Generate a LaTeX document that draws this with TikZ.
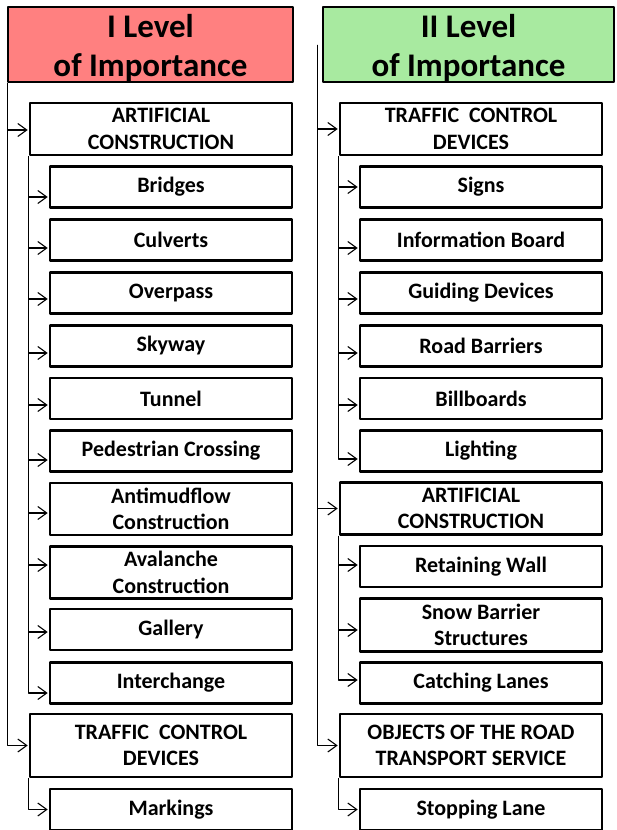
\documentclass[tikz,border=0pt]{standalone}
\usepackage{fontspec}
\setmainfont{Carlito}
\usetikzlibrary{arrows.meta}
\definecolor{levelone}{RGB}{255,128,128}
\definecolor{leveltwo}{RGB}{168,234,160}
\begin{document}
\begin{tikzpicture}[x=1pt,y=-1pt,line join=round,>={Straight Barb[length=9pt,width=13pt]},
	head/.style={draw,line width=2.6pt,minimum width=285pt,minimum height=71pt,align=center,inner sep=0pt,font=\fontsize{33}{39}\selectfont\bfseries},
	group/.style={draw,line width=2.6pt,fill=white,minimum width=262pt,minimum height=52pt,align=center,inner sep=0pt,font=\fontsize{22}{26.5}\selectfont\bfseries},
	item/.style={group,minimum width=242pt,minimum height=41pt},
	link/.style={->,line width=1.1pt,shorten >=1pt}]
			\useasboundingbox (0,0) rectangle (616,830);
			\clip (0,0) rectangle (616,830);
			% headers
			\node[head,fill=levelone] (h1) at (150.5,44.5) {\rule{0pt}{31pt}I Level\\of Importance};
			\node[head,fill=leveltwo,minimum width=291pt] (h2) at (468.5,44.5) {\rule{0pt}{31pt}II Level\\of Importance};
			\coordinate (l0) at ([xshift=1pt]h1.south west);
			\coordinate (r0) at ([xshift=-4pt]h2.west);
			% I level
			\node[group] (ac1) at (161,129) {ARTIFICIAL\\CONSTRUCTION};
			\node[item] (bridges) at (171,187) {Bridges};
			\node[item] (culverts) at (171,240) {Culverts};
			\node[item] (overpass) at (171,293) {Overpass};
			\node[item] (skyway) at (171,346) {Skyway};
			\node[item] (tunnel) at (171,398.5) {Tunnel};
			\node[item] (pedestrian) at (171,451) {Pedestrian Crossing};
			\node[item,minimum height=52pt] (antimudflow) at (171,509) {Antimudflow\\Construction};
			\node[item,minimum height=52pt] (avalanche) at (171,572.5) {Avalanche\\Construction};
			\node[item] (gallery) at (171,629.5) {Gallery};
			\node[item] (interchange) at (171,683) {Interchange};
			\node[group,minimum height=63pt] (tc1) at (161,745.5) {TRAFFIC\ \ CONTROL\\DEVICES};
			\node[item] (markings) at (171,809.5) {Markings};
			% II level
			\node[group] (tc2) at (471,129) {TRAFFIC\ \ CONTROL\\DEVICES};
			\node[item] (signs) at (481,187) {Signs};
			\node[item] (board) at (481,240) {Information Board};
			\node[item] (guiding) at (481,293) {Guiding Devices};
			\node[item] (barriers) at (481,346) {Road Barriers};
			\node[item] (billboards) at (481,398.5) {Billboards};
			\node[item] (lighting) at (481,451) {Lighting};
			\node[group] (ac2) at (471,508.5) {ARTIFICIAL\\CONSTRUCTION};
			\node[item] (wall) at (481,566.5) {Retaining Wall};
			\node[item,minimum height=53pt] (snow) at (481,625) {Snow Barrier\\Structures};
			\node[item] (lanes) at (481,683) {Catching Lanes};
			\node[group,minimum height=63pt] (ots) at (471,745.5) {OBJECTS OF THE ROAD\\TRANSPORT SERVICE};
			\node[item] (stopping) at (481,809.5) {Stopping Lane};
			% links, I level
			\draw[link] (l0) |- ([yshift=-1pt]ac1.west);
			\draw[link] (l0) |- (tc1.west);
			\draw[link] (ac1.south west) |- ([yshift=-10pt]bridges.west);
			\draw[link] (ac1.south west) |- ([yshift=-8pt]culverts.west);
			\draw[link] (ac1.south west) |- ([yshift=-6pt]overpass.west);
			\draw[link] (ac1.south west) |- ([yshift=-7pt]skyway.west);
			\draw[link] (ac1.south west) |- ([yshift=-6.5pt]tunnel.west);
			\draw[link] (ac1.south west) |- ([yshift=-9pt]pedestrian.west);
			\draw[link] (ac1.south west) |- ([yshift=-4pt]antimudflow.west);
			\draw[link] (ac1.south west) |- ([yshift=7.5pt]avalanche.west);
			\draw[link] (ac1.south west) |- ([yshift=-2.5pt]gallery.west);
			\draw[link] (ac1.south west) |- ([yshift=-10pt]interchange.west);
			\draw[link] (tc1.south west) |- (markings.west);
			% links, II level
			\draw[link] (r0) |- (tc2.west);
			\draw[link] (r0) |- (ac2.west);
			\draw[link] (r0) |- (ots.west);
			\draw[link] (tc2.south west) |- (signs.west);
			\draw[link] (tc2.south west) |- ([yshift=-8pt]board.west);
			\draw[link] (tc2.south west) |- ([yshift=-6pt]guiding.west);
			\draw[link] (tc2.south west) |- ([yshift=-7pt]barriers.west);
			\draw[link] (tc2.south west) |- ([yshift=-6.5pt]billboards.west);
			\draw[link] (tc2.south west) |- ([yshift=-8pt]lighting.west);
			\draw[link] (ac2.south west) |- ([yshift=1.5pt]wall.west);
			\draw[link] (ac2.south west) |- ([yshift=-5pt]snow.west);
			\draw[link] (ac2.south west) |- ([yshift=3pt]lanes.west);
			\draw[link] (ots.south west) |- (stopping.west);
\end{tikzpicture}
\end{document}
